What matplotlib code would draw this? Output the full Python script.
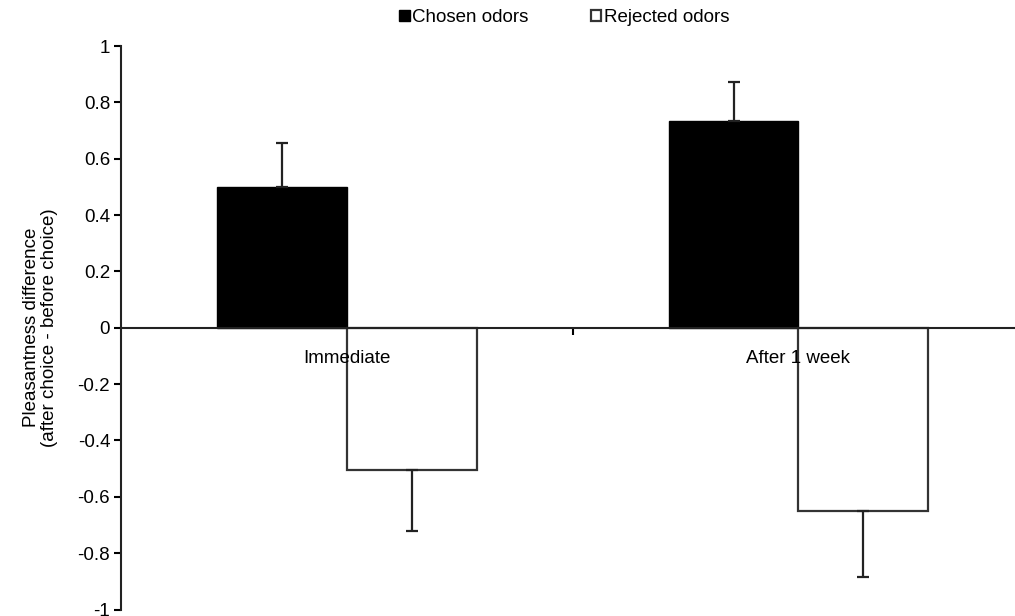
import matplotlib.pyplot as plt
import numpy as np

plt.rcParams['font.family'] = ['Liberation Sans', 'DejaVu Sans']

categories = ['Immediate', 'After 1 week']
chosen = [0.50, 0.734]
chosen_err = [0.157, 0.137]
rejected = [-0.505, -0.652]
rejected_err = [0.217, 0.231]

fig = plt.figure(figsize=(10.15, 6.16), dpi=100)
ax = fig.add_axes([0.1195, (616 - 609.5) / 616, 0.8805, (609.5 - 46) / 616])

ind = np.arange(len(categories))
width = 0.287

b1 = ax.bar(ind - width / 2, chosen, width, color='black', edgecolor='black', linewidth=1)
b2 = ax.bar(ind + width / 2, rejected, width, color='white', edgecolor='#333333', linewidth=1.6)
ax.errorbar(ind - width / 2, chosen, yerr=[np.zeros(2), chosen_err], fmt='none',
            ecolor='#222222', elinewidth=1.6, capsize=4, capthick=1.6)
ax.errorbar(ind + width / 2, rejected, yerr=[rejected_err, np.zeros(2)], fmt='none',
            ecolor='#222222', elinewidth=1.6, capsize=4, capthick=1.6)

ax.set_xlim(-0.5, 1.48)
ax.set_ylim(-1, 1)
ax.set_yticks(np.arange(-1, 1.01, 0.2))
ax.set_yticklabels(['-1', '-0.8', '-0.6', '-0.4', '-0.2', '0', '0.2', '0.4', '0.6', '0.8', '1'])

ax.spines['top'].set_visible(False)
ax.spines['right'].set_visible(False)
ax.spines['bottom'].set_position(('data', 0))
for s in ('left', 'bottom'):
    ax.spines[s].set_linewidth(1.5)
    ax.spines[s].set_color('#222222')

# boundary tick between groups, labels centred on groups
ax.set_xticks([0.5])
ax.set_xticklabels([''])
ax.set_xticks(ind, minor=True)
ax.set_xticklabels(categories, minor=True)
ax.tick_params(axis='x', which='minor', length=0, pad=16, labelsize=13.5)
ax.tick_params(axis='x', which='major', length=5, width=1.5, direction='out')
ax.tick_params(axis='y', length=5, width=1.5, direction='out', labelsize=13.5, pad=3)

ax.set_ylabel('Pleasantness difference\n(after choice - before choice)', fontsize=13.5,
              labelpad=14, linespacing=1.05)

fig.legend((b1, b2), ('Chosen odors', 'Rejected odors'), loc='upper center',
           bbox_to_anchor=(0.556, 1.012), ncol=2, frameon=False, fontsize=13.5,
           handlelength=0.55, handleheight=0.55, handletextpad=0.15, columnspacing=3.3)

fig.savefig('out.png', dpi=100)
